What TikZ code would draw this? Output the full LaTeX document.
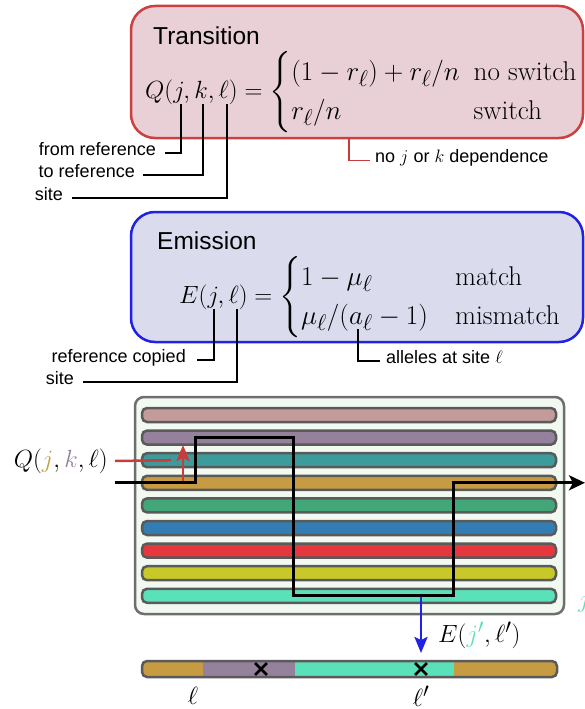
\documentclass[tikz,border=0pt]{standalone}
\usepackage{fix-cm}
\usepackage{amsmath}
\usepackage{graphicx}
\usepackage{fontspec}
\newfontfamily\labelfont{Liberation Sans}
\usetikzlibrary{arrows.meta,shapes.misc}

\definecolor{tborder}{RGB}{204,64,64}
\definecolor{tfill}{RGB}{233,208,214}
\definecolor{eborder}{RGB}{34,34,230}
\definecolor{efill}{RGB}{218,220,238}
\definecolor{pborder}{RGB}{110,110,110}
\definecolor{pfill}{RGB}{241,249,241}
\definecolor{soutline}{RGB}{90,90,90}
\definecolor{cpink}{RGB}{196,155,155}
\definecolor{cpurple}{RGB}{149,129,156}
\definecolor{cteal}{RGB}{60,156,156}
\definecolor{cgold}{RGB}{199,155,66}
\definecolor{cgreen}{RGB}{66,166,120}
\definecolor{cblue}{RGB}{50,125,180}
\definecolor{cred}{RGB}{230,55,60}
\definecolor{cyellow}{RGB}{200,200,40}
\definecolor{caqua}{RGB}{90,225,185}
\definecolor{qred}{RGB}{200,60,60}
\definecolor{eblue}{RGB}{34,34,230}

\tikzset{
  infobox/.style={rounded corners=24pt, line width=2.5pt},
  boxtitle/.style={font=\labelfont\fontsize{24.5}{28}\selectfont, inner sep=0pt},
  lbl/.style={font=\labelfont\fontsize{18}{21}\selectfont, inner sep=0pt},
  bigmath/.style={font=\fontsize{24.88}{30}\selectfont, inner sep=0pt},
  lead/.style={line width=1.4pt},
  strand/.style={draw=soutline, line width=2.5pt, rounded corners=5pt, inner sep=0pt},
  copypath/.style={line width=3pt, -{Stealth[length=16pt,width=15pt,inset=4pt]}},
  probarrow/.style={line width=2.5pt, -{Stealth[length=16pt,width=13pt,inset=3pt]}},
  xmark/.style={cross out, draw=black, line width=2.8pt, minimum size=9pt, inner sep=0pt},
}

\begin{document}
\begin{tikzpicture}[x=1pt,y=-1pt]
\useasboundingbox (0,0) rectangle (585,709);

% ---------- transition probability ----------
\draw[infobox, draw=tborder, fill=tfill] (131,6) rectangle (583,138);
\node[boxtitle, anchor=base west] (ttitle) at (153,45) {Transition};
\node[bigmath, anchor=west] (qeq) at (145,92)
  {$Q(j,k,\ell)=\scalebox{1.09}{$\begin{cases}(1-r_\ell)+r_\ell/n & \hspace{-12pt}\text{no switch}\\ r_\ell/n & \hspace{-12pt}\text{switch}\end{cases}$}$};

\coordinate (qj) at (181,104);
\coordinate (qk) at (203,104);
\coordinate (ql) at (227,104);
\node[lbl, anchor=mid east] (lfrom) at (156,153) {from reference};
\node[lbl, anchor=mid east] (lto) at (135,175) {to reference};
\node[lbl, anchor=mid east] (lsiteq) at (63,198) {site};
\draw[lead] (qj) |- ([xshift=9pt]lfrom.mid east);
\draw[lead] (qk) |- ([xshift=8pt]lto.mid east);
\draw[lead] (ql) |- ([xshift=9pt]lsiteq.mid east);

\coordinate (qnodep) at (349,138);
\node[lbl, anchor=mid west] (ldep) at (375,160.5) {no $j$ or $k$ dependence};
\draw[lead, draw=qred] (qnodep) |- ([xshift=-5pt]ldep.mid west);

% ---------- emission probability ----------
\draw[infobox, draw=eborder, fill=efill] (131,212) rectangle (583,342);
\node[boxtitle, anchor=base west] (etitle) at (157,249) {Emission};
\node[bigmath, anchor=west] (eeq) at (179,297)
  {$E(j,\ell)=\scalebox{1.09}{$\begin{cases}1-\mu_\ell & \text{match}\\ \mu_\ell/(a_\ell-1) & \text{mismatch}\end{cases}$}$};

\coordinate (ej) at (214,309);
\coordinate (el) at (237,309);
\coordinate (ea) at (358,329);
\node[lbl, anchor=mid east] (lcopied) at (186,360) {reference copied};
\node[lbl, anchor=mid east] (lsitee) at (74,382) {site};
\node[lbl, anchor=mid west] (lalleles) at (386,361) {alleles at site $\ell$};
\draw[lead] (ej) |- ([xshift=11pt]lcopied.mid east);
\draw[lead] (el) |- ([xshift=9pt]lsitee.mid east);
\draw[lead] (ea) |- ([xshift=-6pt]lalleles.mid west);

% ---------- reference panel ----------
\draw[draw=pborder, fill=pfill, line width=2.5pt, rounded corners=9pt] (135,397) rectangle (564,614);
\foreach \i/\c in {1/cpink,2/cpurple,3/cteal,4/cgold,5/cgreen,6/cblue,7/cred,8/cyellow,9/caqua}{
  \node[strand, fill=\c, minimum width=414pt, minimum height=14pt] (bar\i) at (349,{415+22.6*(\i-1)}) {};
}

% copying path through the references
\coordinate (pin) at (115,482.8);
\coordinate (pout) at (585,482.8);
\draw[copypath] (pin) -| (195,437.6) -| (293,595.8) -| (453,482.8) -- (pout);

% switch probability
\node[bigmath, anchor=east] (qlab) at (108,461)
  {$Q({\color{cgold}j},{\color{cpurple}k},\ell)$};
\coordinate (qend) at (171,460.2);
\draw[line width=2.5pt, draw=qred] ([xshift=7pt]qlab.east) -- (qend);
\coordinate (sw0) at (183,481);
\coordinate (sw1) at (183,445);
\draw[probarrow, draw=qred, fill=qred] (sw0) -- (sw1);

% emission at a site
\coordinate (em0) at (421,597);
\coordinate (em1) at (421,653);
\draw[probarrow, draw=eblue, fill=eblue] (em0) -- (em1);
\node[bigmath, anchor=west] (elab) at (438,635) {$E({\color{caqua}j'},\ell')$};
\node[bigmath, anchor=base west, text=caqua] (jside) at (578,607) {$j'$};

% ---------- copied haplotype ----------
\begin{scope}
  \clip[rounded corners=5pt] (142,661) rectangle (557,677);
  \fill[cgold] (142,661) rectangle (203,677);
  \fill[cpurple] (203,661) rectangle (295,677);
  \fill[caqua] (295,661) rectangle (454,677);
  \fill[cgold] (454,661) rectangle (557,677);
\end{scope}
\draw[strand] (142,661) rectangle (557,677);
\node[xmark] (mut1) at (261,669) {};
\node[xmark] (mut2) at (421,669) {};
\node[bigmath] (sitel) at (193,696) {$\ell$};
\node[bigmath] (sitelp) at (421,696) {$\ell'$};
\end{tikzpicture}
\end{document}
